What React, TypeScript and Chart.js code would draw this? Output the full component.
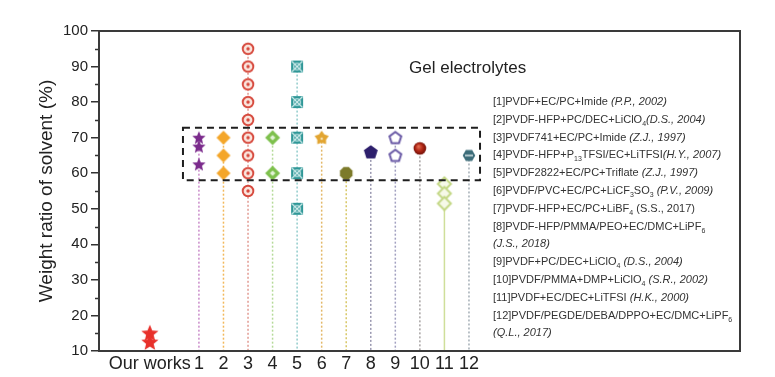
import React, { useEffect, useRef } from 'react';
import { Chart, registerables } from 'chart.js';

Chart.register(...registerables);

// ---------- data ----------
const xTickValues = [-1, 1, 2, 3, 4, 5, 6, 7, 8, 9, 10, 11, 12];
const xTickLabels = ['Our works', '1', '2', '3', '4', '5', '6', '7', '8', '9', '10', '11', '12'];
const yTicks = [10, 20, 30, 40, 50, 60, 70, 80, 90, 100];

const ourWorksX = -1;
const ourWorks = [15, 12.5];

const seriesX = [1, 2, 3, 4, 5, 6, 7, 8, 9, 10, 11, 12];
const s1 = [70, 67.5, 62.5];
const s2 = [70, 65, 60];
const s3 = [95, 90, 85, 80, 75, 70, 65, 60, 55];
const s4 = [70, 60];
const s5 = [90, 80, 70, 60, 50];
const s6 = [70];
const s7 = [60];
const s8 = [66];
const s9 = [70, 65];
const s10 = [67];
const s11 = [57, 54.3, 51.5];
const s12 = [65];
const seriesValues = [s1, s2, s3, s4, s5, s6, s7, s8, s9, s10, s11, s12];

const yTitle = 'Weight ratio of solvent (%)';
const boxTitle = 'Gel electrolytes';
// legend lines: _{..} subscript, *..* italic
const legendLines = [
  '[1]PVDF+EC/PC+Imide *(P.P., 2002)*',
  '[2]PVDF-HFP+PC/DEC+LiClO_{4}*(D.S., 2004)*',
  '[3]PVDF741+EC/PC+Imide *(Z.J., 1997)*',
  '[4]PVDF-HFP+P_{13}TFSI/EC+LiTFSI*(H.Y., 2007)*',
  '[5]PVDF2822+EC/PC+Triflate *(Z.J., 1997)*',
  '[6]PVDF/PVC+EC/PC+LiCF_{3}SO_{3} *(P.V., 2009)*',
  '[7]PVDF-HFP+EC/PC+LiBF_{4} (S.S., 2017)',
  '[8]PVDF-HFP/PMMA/PEO+EC/DMC+LiPF_{6}',
  '*(J.S., 2018)*',
  '[9]PVDF+PC/DEC+LiClO_{4} *(D.S., 2004)*',
  '[10]PVDF/PMMA+DMP+LiClO_{4} *(S.R., 2002)*',
  '[11]PVDF+EC/DEC+LiTFSI *(H.K., 2000)*',
  '[12]PVDF/PEGDE/DEBA/DPPO+EC/DMC+LiPF_{6}',
  '*(Q.L., 2017)*',
];

// highlighted region (data units)
const regionX = [0.35, 12.45];
const regionY = [58, 72.8];

// ---------- styles ----------
const FONT = '"Liberation Sans", Arial, sans-serif';
const dropColors = ['#c98bc9', '#f2b85a', '#e29a92', '#b5da98', '#92cccc', '#e3b868', '#d8c868', '#9a98b0', '#a2a0c0', '#a8a4a4', '#cfdf9a', '#a4aeb6'];
const dropDash = [[2, 2], [2, 2], [2, 2], [2, 2], [2, 2], [2, 2], [2, 2], [2, 2], [2, 2], [2, 2], [], [2, 2]];

type Draw = (c: CanvasRenderingContext2D, w: number, h: number) => void;
function mk(w: number, h: number, draw: Draw): HTMLCanvasElement {
  const cv = document.createElement('canvas');
  cv.width = w;
  cv.height = h;
  const c = cv.getContext('2d')!;
  draw(c, w, h);
  return cv;
}
function starPath(c: CanvasRenderingContext2D, cx: number, cy: number, n: number, ro: number, ri: number) {
  c.beginPath();
  for (let i = 0; i < 2 * n; i++) {
    const a = -Math.PI / 2 + (i * Math.PI) / n;
    const r = i % 2 ? ri : ro;
    const px = cx + r * Math.cos(a);
    const py = cy + r * Math.sin(a);
    if (i === 0) c.moveTo(px, py); else c.lineTo(px, py);
  }
  c.closePath();
}
function polyPath(c: CanvasRenderingContext2D, cx: number, cy: number, n: number, r: number, rot = -Math.PI / 2) {
  c.beginPath();
  for (let i = 0; i < n; i++) {
    const a = rot + (i * 2 * Math.PI) / n;
    const px = cx + r * Math.cos(a);
    const py = cy + r * Math.sin(a);
    if (i === 0) c.moveTo(px, py); else c.lineTo(px, py);
  }
  c.closePath();
}

function makeMarkers() {
  const ours = mk(20, 20, (c) => { starPath(c, 10, 10.5, 5, 9, 4); c.fillStyle = '#e8302a'; c.fill(); });
  const m1 = mk(16, 16, (c) => { starPath(c, 8, 8.5, 5, 7, 3.2); c.fillStyle = '#7b2b8c'; c.fill(); });
  const m2 = mk(16, 16, (c) => { polyPath(c, 8, 8, 4, 7); c.fillStyle = '#f4a62a'; c.fill(); });
  const m3 = mk(16, 16, (c) => {
    c.beginPath(); c.arc(8, 8, 5.3, 0, Math.PI * 2); c.fillStyle = '#fbe6de'; c.fill();
    c.lineWidth = 1.9; c.strokeStyle = '#d6473b'; c.stroke();
    c.beginPath(); c.arc(8, 8, 1.7, 0, Math.PI * 2); c.fillStyle = '#d6473b'; c.fill();
  });
  const m4 = mk(18, 18, (c) => {
    polyPath(c, 9, 9, 4, 7.5); c.fillStyle = '#7dc04c'; c.fill();
    polyPath(c, 9, 9, 4, 2.8); c.fillStyle = '#e3f3d6'; c.fill();
  });
  const m5 = mk(16, 16, (c) => {
    c.fillStyle = '#2f9797'; c.fillRect(2, 2, 12, 12);
    c.strokeStyle = '#d8f0f0'; c.lineWidth = 1.1;
    c.beginPath(); c.moveTo(2.5, 2.5); c.lineTo(13.5, 13.5); c.moveTo(13.5, 2.5); c.lineTo(2.5, 13.5); c.stroke();
    c.beginPath(); c.arc(8, 8, 3.3, 0, Math.PI * 2); c.stroke();
  });
  const m6 = mk(18, 18, (c) => {
    starPath(c, 9, 9.5, 5, 7.5, 4.6); c.fillStyle = '#e2a531'; c.fill();
    c.beginPath(); c.arc(9, 10, 1.3, 0, Math.PI * 2); c.fillStyle = '#f6e0b0'; c.fill();
  });
  const m7 = mk(16, 16, (c) => { polyPath(c, 8, 8, 8, 6.8, -Math.PI / 8); c.fillStyle = '#7c7a2a'; c.fill(); });
  const m8 = mk(18, 18, (c) => { polyPath(c, 9, 9.5, 5, 7.3); c.fillStyle = '#2d1f6c'; c.fill(); });
  const m9 = mk(18, 18, (c) => {
    polyPath(c, 9, 9.5, 5, 6.2); c.fillStyle = '#ffffff'; c.fill();
    c.lineWidth = 2; c.strokeStyle = '#6a5aa6'; c.stroke();
  });
  const m10 = mk(16, 16, (c) => {
    const g = c.createRadialGradient(6.5, 6, 0.5, 8, 8, 6.5);
    g.addColorStop(0, '#e06a50'); g.addColorStop(0.5, '#b52a18'); g.addColorStop(1, '#6e0c04');
    c.beginPath(); c.arc(8, 8, 6.3, 0, Math.PI * 2); c.fillStyle = g; c.fill();
  });
  const m11 = mk(18, 18, (c) => {
    polyPath(c, 9, 9, 4, 6.5); c.fillStyle = '#f6f9e8'; c.fill();
    c.lineWidth = 2; c.strokeStyle = '#c3d785'; c.stroke();
  });
  const m12 = mk(16, 16, (c) => {
    polyPath(c, 8, 8, 6, 6.3, 0); c.fillStyle = '#3c6c79'; c.fill();
    c.strokeStyle = '#e4eef0'; c.lineWidth = 1.4;
    c.beginPath(); c.moveTo(4, 8); c.lineTo(12, 8); c.stroke();
  });
  return { ours, series: [m1, m2, m3, m4, m5, m6, m7, m8, m9, m10, m11, m12] };
}

function drawRich(c: CanvasRenderingContext2D, text: string, x: number, y: number, size: number) {
  let i = 0;
  let italic = false;
  let cx = x;
  while (i < text.length) {
    const ch = text[i];
    if (ch === '*') { italic = !italic; i++; continue; }
    if (text.startsWith('_{', i)) {
      const end = text.indexOf('}', i);
      const sub = text.slice(i + 2, end);
      c.font = `${italic ? 'italic ' : ''}${Math.round(size * 0.62)}px ${FONT}`;
      c.fillText(sub, cx, y + 3);
      cx += c.measureText(sub).width;
      i = end + 1;
      continue;
    }
    let j = i;
    while (j < text.length && text[j] !== '*' && !text.startsWith('_{', j)) j++;
    const run = text.slice(i, j);
    c.font = `${italic ? 'italic ' : ''}${size}px ${FONT}`;
    c.fillText(run, cx, y);
    cx += c.measureText(run).width;
    i = j;
  }
}

const decorPlugin = {
  id: 'decor',
  afterDatasetsDraw(chart: any) {
    const { ctx, chartArea, scales } = chart;
    const xs = scales.x, ys = scales.y;
    // dashed region
    ctx.save();
    ctx.strokeStyle = '#1e1e1e';
    ctx.lineWidth = 2;
    ctx.setLineDash([7, 5]);
    const x0 = xs.getPixelForValue(regionX[0]);
    const x1 = xs.getPixelForValue(regionX[1]);
    const y0 = ys.getPixelForValue(regionY[1]);
    const y1 = ys.getPixelForValue(regionY[0]);
    ctx.strokeRect(x0, y0, x1 - x0, y1 - y0);
    ctx.restore();
  },
  afterDraw(chart: any) {
    const { ctx, chartArea, scales } = chart;
    const ys = scales.y;
    ctx.save();
    // minor ticks
    ctx.strokeStyle = '#333';
    ctx.lineWidth = 1.5;
    for (let v = 15; v < 100; v += 10) {
      const py = Math.round(ys.getPixelForValue(v)) + 0.5;
      ctx.beginPath();
      ctx.moveTo(chartArea.left - 4, py);
      ctx.lineTo(chartArea.left, py);
      ctx.stroke();
    }
    // frame
    ctx.strokeStyle = '#3a3a3a';
    ctx.lineWidth = 2;
    ctx.strokeRect(chartArea.left, chartArea.top, chartArea.right - chartArea.left, chartArea.bottom - chartArea.top);
    // title text
    ctx.fillStyle = '#222';
    ctx.textBaseline = 'middle';
    ctx.textAlign = 'left';
    ctx.font = `17px ${FONT}`;
    ctx.fillText(boxTitle, 409, 68);
    // legend lines
    ctx.fillStyle = '#333';
    ctx.textBaseline = 'alphabetic';
    legendLines.forEach((line, k) => {
      drawRich(ctx, line, 493, 105 + k * 17.8, 11);
    });
    ctx.restore();
  },
};

export default function App() {
  const ref = useRef<HTMLCanvasElement>(null);
  useEffect(() => {
    if (!ref.current) return;
    const markers = makeMarkers();
    const datasets: any[] = [];
    seriesValues.forEach((vals, i) => {
      datasets.push({
        type: 'line',
        data: [{ x: seriesX[i], y: Math.max(...vals) }, { x: seriesX[i], y: 10 }],
        borderColor: dropColors[i],
        borderWidth: 1.5,
        borderDash: dropDash[i],
        pointRadius: 0,
        order: 3,
      });
    });
    seriesValues.forEach((vals, i) => {
      datasets.push({
        type: 'scatter',
        data: vals.map((v) => ({ x: seriesX[i], y: v })),
        pointStyle: markers.series[i],
        pointRadius: 7,
        order: 1,
      });
    });
    datasets.push({
      type: 'scatter',
      data: ourWorks.map((v) => ({ x: ourWorksX, y: v })),
      pointStyle: markers.ours,
      pointRadius: 9,
      order: 1,
    });

    const chart = new Chart(ref.current, {
      type: 'scatter',
      data: { datasets },
      options: {
        responsive: false,
        animation: false,
        layout: { padding: { top: 31, right: 35, left: 0, bottom: 0 } },
        plugins: { legend: { display: false }, tooltip: { enabled: false } },
        scales: {
          x: {
            type: 'linear',
            min: -3.07,
            max: 23.04,
            afterBuildTicks: (s: any) => { s.ticks = xTickValues.map((v) => ({ value: v })); },
            afterFit: (s: any) => { s.height = 26; },
            ticks: {
              autoSkip: false,
              maxRotation: 0,
              padding: 2,
              color: '#222',
              font: { family: FONT, size: 18 },
              callback: (v: any) => {
                const k = xTickValues.indexOf(Number(v));
                return k >= 0 ? xTickLabels[k] : '';
              },
            },
            grid: { display: false, drawTicks: false },
            border: { display: false },
          },
          y: {
            min: 10,
            max: 100,
            afterBuildTicks: (s: any) => { s.ticks = yTicks.map((v) => ({ value: v })); },
            afterFit: (s: any) => { s.width = 99; },
            ticks: {
              padding: 3,
              color: '#222',
              font: { family: FONT, size: 15 },
            },
            grid: { drawOnChartArea: false, drawTicks: true, tickLength: 8, color: '#333', lineWidth: 1.5 },
            border: { display: false },
            title: {
              display: true,
              text: yTitle,
              color: '#222',
              font: { family: FONT, size: 19, lineHeight: 1.2 },
              padding: { top: 35, bottom: 0 },
            },
          },
        },
      },
      plugins: [decorPlugin],
    } as any);
    return () => chart.destroy();
  }, []);
  return (
    <div style={{ position: 'fixed', left: 0, top: 0, width: 775, height: 377, background: '#fff' }}>
      <canvas ref={ref} width={775} height={377} style={{ display: 'block' }} />
    </div>
  );
}
